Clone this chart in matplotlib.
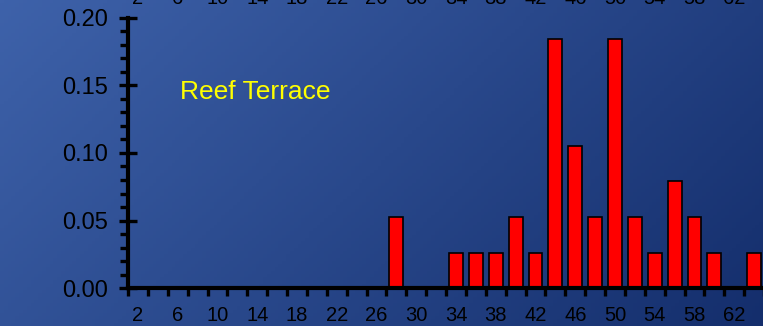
import numpy as np
import matplotlib
matplotlib.use("Agg")
import matplotlib.pyplot as plt
from matplotlib.ticker import FixedLocator, MultipleLocator, FormatStrFormatter

plt.rcParams['font.family'] = ['Liberation Sans', 'DejaVu Sans']

# bin centres and relative frequency (Reef Terrace)
bins = [28, 34, 36, 38, 40, 42, 44, 46, 48, 50, 52, 54, 56, 58, 60, 64]
freq = [0.053, 0.026, 0.026, 0.026, 0.053, 0.026, 0.184, 0.105,
        0.053, 0.184, 0.053, 0.026, 0.079, 0.053, 0.026, 0.026]
label_pos = [2, 6, 10, 14, 18, 22, 26, 30, 34, 38, 42, 46, 50, 54, 58, 62]
edge_pos = list(range(1, 66, 2))

fig = plt.figure(figsize=(7.63, 3.26), dpi=100)

# background gradient, light top-left to dark bottom-right
bg = fig.add_axes([0, 0, 1, 1], zorder=-1)
bg.axis('off')
u, v = np.meshgrid(np.linspace(0, 1, 200), np.linspace(0, 1, 100))
t = 0.7 * u + 0.3 * v
c0 = np.array([62, 98, 170]) / 255.0
c1 = np.array([20, 46, 108]) / 255.0
img = c0[None, None, :] * (1 - t[..., None]) + c1[None, None, :] * t[..., None]
bg.imshow(img, aspect='auto', extent=[0, 1, 0, 1], origin='upper')
bg.set_xlim(0, 1)
bg.set_ylim(0, 1)

ax = fig.add_axes([0.1679, 0.1156, 0.8335, 0.8307])
ax.patch.set_alpha(0)
ax.bar(bins, freq, width=1.4, color='#ff0000', edgecolor='black', linewidth=1.2, zorder=2)

ax.set_xlim(1, 65)
ax.set_ylim(0, 0.20)

for s in ['top', 'right']:
    ax.spines[s].set_visible(False)
for s in ['left', 'bottom']:
    ax.spines[s].set_linewidth(3)
    ax.spines[s].set_zorder(3)

ax.yaxis.set_major_locator(MultipleLocator(0.05))
ax.yaxis.set_minor_locator(MultipleLocator(0.01))
ax.yaxis.set_major_formatter(FormatStrFormatter('%.2f'))
ax.tick_params(axis='y', which='major', direction='inout', length=13, width=2.4,
               labelsize=17, pad=8, colors='black')
ax.tick_params(axis='y', which='minor', direction='out', length=6, width=2.4)

ax.xaxis.set_major_locator(FixedLocator(edge_pos))
ax.xaxis.set_minor_locator(FixedLocator(label_pos))
ax.xaxis.set_major_formatter(plt.NullFormatter())
ax.xaxis.set_minor_formatter(plt.FuncFormatter(lambda x, p: '%d' % x))
ax.tick_params(axis='x', which='major', direction='out', length=6, width=2.4)
ax.tick_params(axis='x', which='minor', length=0, labelsize=14.5, pad=13)

top = ax.secondary_xaxis('top')
top.spines['top'].set_visible(False)
top.xaxis.set_major_locator(FixedLocator(label_pos))
top.xaxis.set_major_formatter(plt.FuncFormatter(lambda x, p: '%d' % x))
top.tick_params(axis='x', length=0, labelsize=14.5, pad=6.5)

ax.text(0.0818, 0.699, 'Reef Terrace', transform=ax.transAxes, color='#ffff00',
        fontsize=19, va='baseline', ha='left')

fig.savefig('out.png', dpi=100)
